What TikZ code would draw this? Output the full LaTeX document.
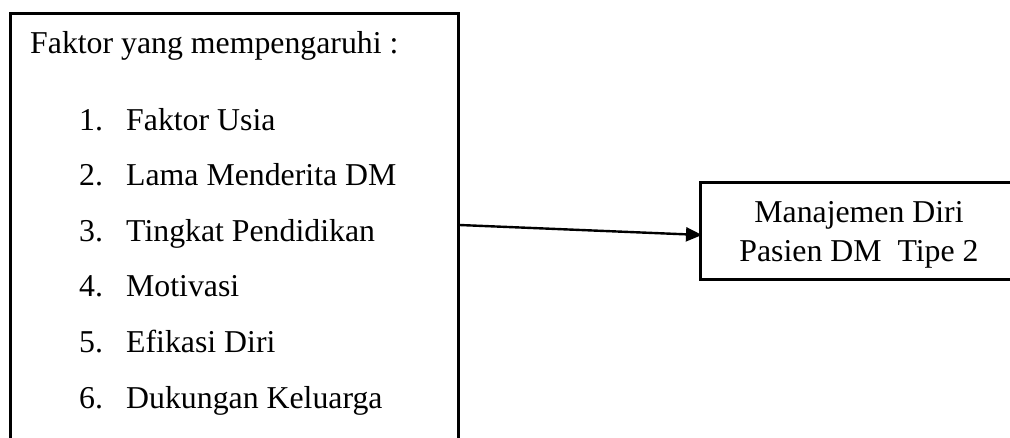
\documentclass[tikz,border=0pt]{standalone}
\usepackage{fontspec}
\setmainfont{Liberation Serif}
\usetikzlibrary{arrows.meta,calc}

\tikzset{
  frame/.style={draw=black, line width=2.6pt, rectangle, inner sep=0pt, anchor=north west},
  txt/.style={inner sep=0pt, anchor=base west, font=\fontsize{31.8}{39}\selectfont},
  link/.style={draw=black, line width=2.4pt, -{Triangle[length=16pt,width=14pt]}}
}

\begin{document}
\begin{tikzpicture}[x=1pt,y=-1pt]
  \useasboundingbox (0,0) rectangle (1010,437);
  \clip (0,0) rectangle (1010,437);

  % left box with the list of influencing factors (runs past the lower edge)
  \node[frame, minimum width=448pt, minimum height=480pt] (factors) at (9,12) {};
  \node[txt] (head) at (30,53) {Faktor yang mempengaruhi :};
  \foreach \i/\t [count=\k from 0] in {1/Faktor Usia,2/Lama Menderita DM,3/Tingkat Pendidikan,4/Motivasi,5/Efikasi Diri,6/Dukungan Keluarga}{
    \node[txt] (num\i) at (79,130+55.6*\k) {\i.};
    \node[txt] (item\i) at (126,130+55.6*\k) {\t};
  }

  % right box with the outcome (runs past the right edge)
  \node[frame, minimum width=330pt, minimum height=97pt] (target) at (699,181) {};
  \node[inner sep=0pt, align=center, font=\fontsize{31.8}{39}\selectfont] (outcome)
    at (859,235) {Manajemen Diri\\Pasien DM\ \ Tipe 2};

  % connector
  \coordinate (src) at ($(factors.north east)+(0,213)$);
  \coordinate (dst) at ($(target.north west)+(3,54)$);
  \draw[link] (src) -- (dst);
\end{tikzpicture}
\end{document}
